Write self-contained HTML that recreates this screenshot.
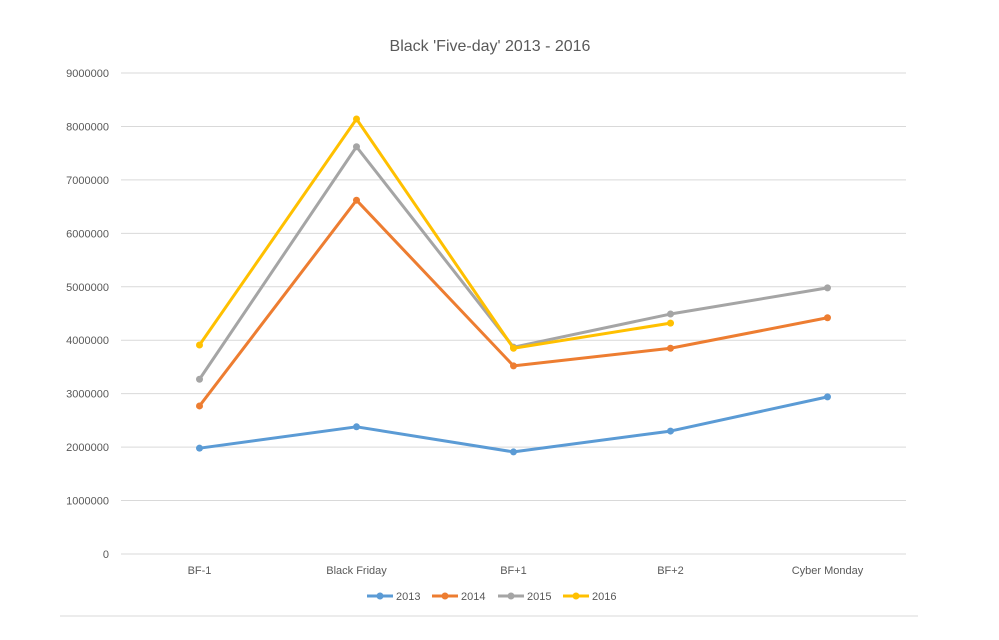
<!DOCTYPE html>
<html><head><meta charset="utf-8"><style>
body{margin:0;background:#fff;}
svg{display:block;font-family:"Liberation Sans",sans-serif;}
</style></head><body>
<svg id="chart" width="999" height="640">
<text x="490" y="51" text-anchor="middle" font-size="16" fill="#595959">Black 'Five-day' 2013 - 2016</text>
<g id="grid"></g><g id="series"></g><g id="legend"></g>
<line x1="60" y1="616" x2="918" y2="616" stroke="#d9d9d9"/>
</svg>
<script>
const categories = ["BF-1","Black Friday","BF+1","BF+2","Cyber Monday"];
const yTicks = [0,1000000,2000000,3000000,4000000,5000000,6000000,7000000,8000000,9000000];
const seriesNames = ["2013","2014","2015","2016"];
const colors = ["#5b9bd5","#ed7d31","#a5a5a5","#ffc000"];
const s2013 = [1980000,2380000,1910000,2300000,2940000];
const s2014 = [2770000,6620000,3520000,3850000,4420000];
const s2015 = [3270000,7620000,3870000,4490000,4980000];
const s2016 = [3910000,8140000,3850000,4320000,null];
const seriesData = [s2013,s2014,s2015,s2016];

const NS="http://www.w3.org/2000/svg";
const x0=121,x1=906,yb=554,yt=73,ymax=9000000;
const xs=i=>x0+(x1-x0)*(i+0.5)/categories.length;
const ys=v=>yb-(yb-yt)*v/ymax;
function mk(tag,attrs,parent){const e=document.createElementNS(NS,tag);for(const k in attrs)e.setAttribute(k,attrs[k]);parent.appendChild(e);return e;}
const grid=document.getElementById('grid');
yTicks.forEach(t=>{
  const l=mk('line',{x1:x0,x2:x1,y1:ys(t),y2:ys(t),stroke:'#d9d9d9'},grid);
  
  
  const tx=mk('text',{x:109,y:ys(t)+4,'text-anchor':'end','font-size':'11',fill:'#595959'},grid);
  tx.textContent=t;
  
  
});
categories.forEach((c,i)=>{
  const tx=mk('text',{x:xs(i),y:574,'text-anchor':'middle','font-size':'11',fill:'#595959'},grid);
  tx.textContent=c;
  
  
});
const sg=document.getElementById('series');
seriesData.forEach((d,si)=>{
  const pts=[];d.forEach((v,i)=>{if(v!==null)pts.push([xs(i),ys(v)]);});
  const p=mk('polyline',{points:pts.map(p=>p.join(',')).join(' '),fill:'none',stroke:colors[si],'stroke-width':'3','stroke-linejoin':'round','stroke-linecap':'round'},sg);
  
  
  pts.forEach(pt=>{
    const c=mk('circle',{cx:pt[0],cy:pt[1],r:3.5,fill:colors[si]},sg);
    
    
  });
});
const lg=document.getElementById('legend');
const lx=[367,432,498,563];
seriesNames.forEach((n,i)=>{
  const g=mk('g',{},lg);
  
  
  mk('line',{x1:lx[i],x2:lx[i]+26,y1:596,y2:596,stroke:colors[i],'stroke-width':'3'},g);
  mk('circle',{cx:lx[i]+13,cy:596,r:3.5,fill:colors[i]},g);
  const t=mk('text',{x:lx[i]+29,y:600,'font-size':'11',fill:'#595959'},g);
  t.textContent=n;
});
</script>
</body></html>
